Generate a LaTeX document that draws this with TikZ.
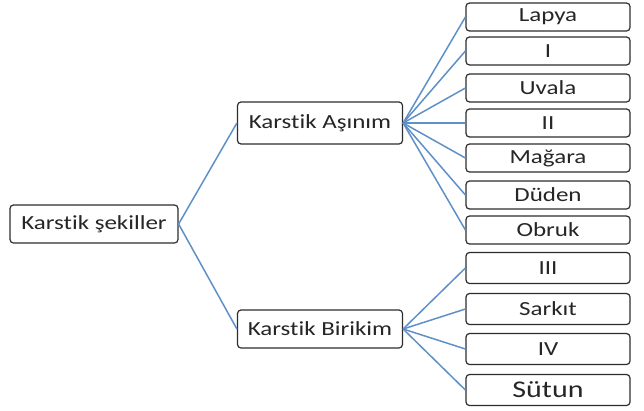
\documentclass[tikz,border=0pt]{standalone}
\usepackage{fontspec}
\setmainfont{Carlito}[FakeStretch=1.25,Ligatures=NoCommon]
\usetikzlibrary{positioning}
\definecolor{linkblue}{RGB}{95,145,200}
\definecolor{boxgray}{RGB}{45,45,45}

\begin{document}
\begin{tikzpicture}[x=1pt,y=-1pt,% pixel grid of the reference, y grows downwards
			every node/.style={
				align=center,
				inner sep=0pt,
				text=black!85,
				font=\fontsize{20}{22}\selectfont
			},
			box/.style={rectangle,rounded corners=3.5pt,draw=boxgray,line width=1.2pt,fill=white},
			root/.style={box,minimum width=168pt,minimum height=38pt},
			mid/.style={box,minimum width=165pt,minimum height=42pt},
			leaf/.style={box,minimum width=164pt,minimum height=28pt},
			every edge/.style={draw=linkblue,line width=1.5pt}
		]
		\fill[white] (0,0) rectangle (644,410);
		\useasboundingbox (0,0) rectangle (644,410);
		% branches
		\node[root](Kok) at (94,224) {Karstik şekiller};
		\node[mid](Asinim) at (320,123) {Karstik Aşınım};
		\node[mid,minimum height=38pt](Birikim) at (320,329) {Karstik Birikim};
		% leaves
		\node[leaf](Lapya) at (548,17) {Lapya};
		\node[leaf](I) at (548,51) {I};
		\node[leaf](Uvala) at (548,88) {Uvala};
		\node[leaf](II) at (548,123) {II};
		\node[leaf](Magara) at (548,158) {Mağara};
		\node[leaf](Duden) at (548,195) {Düden};
		\node[leaf](Obruk) at (548,230) {Obruk};
		\node[leaf,minimum height=31pt](III) at (548,268) {III};
		\node[leaf,minimum height=31pt](Sarkit) at (548,309) {Sarkıt};
		\node[leaf,minimum height=31pt](IV) at (548,349) {IV};
		\node[leaf,minimum height=31pt,font=\fontsize{24}{26}\selectfont](Sutun) at (548,390) {Sütun};
		\path
		(Kok.east)edge (Asinim.west)
		(Kok.east)edge (Birikim.west)
		(Asinim.east)edge (Lapya.west)
		(Asinim.east)edge (I.west)
		(Asinim.east)edge (Uvala.west)
		(Asinim.east)edge (II.west)
		(Asinim.east)edge (Magara.west)
		(Asinim.east)edge (Duden.west)
		(Asinim.east)edge (Obruk.west)
		(Birikim.east)edge (III.west)
		(Birikim.east)edge (Sarkit.west)
		(Birikim.east)edge (IV.west)
		(Birikim.east)edge (Sutun.west)
		;
	\end{tikzpicture}
\end{document}
